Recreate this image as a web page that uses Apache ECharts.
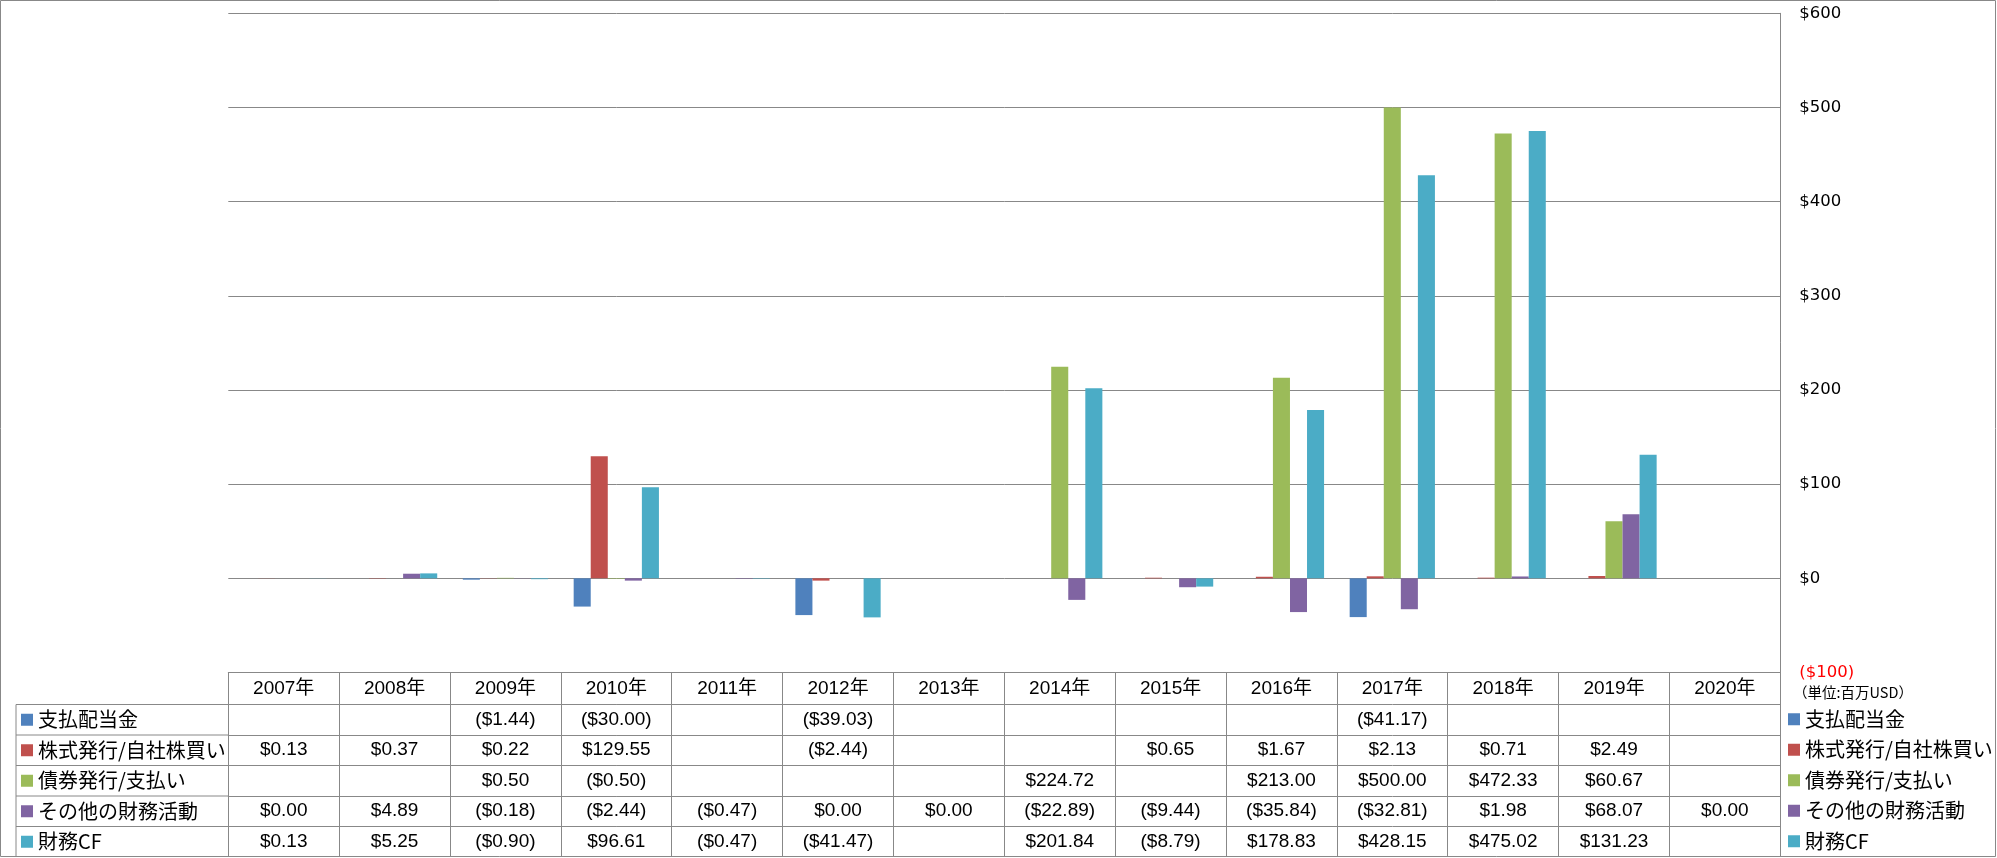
<!DOCTYPE html>
<html>
<head>
<meta charset="utf-8">
<script src="https://cdn.jsdelivr.net/npm/echarts@6/dist/echarts.min.js"></script>
<style>
html,body{margin:0;padding:0;background:#fff;}
#chart{width:1997px;height:858px;}
</style>
</head>
<body>
<div id="chart"></div>
<script>
// ---- data ----
const years = ['2007年','2008年','2009年','2010年','2011年','2012年','2013年','2014年','2015年','2016年','2017年','2018年','2019年','2020年'];
const seriesNames = ['支払配当金','株式発行/自社株買い','債券発行/支払い','その他の財務活動','財務CF'];
const dividends   = [null, null, -1.44, -30.00, null, -39.03, null, null, null, null, -41.17, null, null, null];
const stockIssue  = [0.13, 0.37, 0.22, 129.55, null, -2.44, null, null, 0.65, 1.67, 2.13, 0.71, 2.49, null];
const debtIssue   = [null, null, 0.50, -0.50, null, null, null, 224.72, null, 213.00, 500.00, 472.33, 60.67, null];
const otherFin    = [0.00, 4.89, -0.18, -2.44, -0.47, 0.00, 0.00, -22.89, -9.44, -35.84, -32.81, 1.98, 68.07, 0.00];
const financingCF = [0.13, 5.25, -0.90, 96.61, -0.47, -41.47, null, 201.84, -8.79, 178.83, 428.15, 475.02, 131.23, null];
const yTicks = {min: -100, max: 600, interval: 100};
const unitLabel = '（単位:百万USD）';

const seriesData = [dividends, stockIssue, debtIssue, otherFin, financingCF];
const colors = ['#4F81BD','#C0504D','#9BBB59','#8064A2','#4BACC6'];

// ---- layout ----
const W = 1997, H = 858;
const gridLeft = 228.3, gridRight = 1780.3, gridTop = 13.3, tableTop = 672.5;
const headerH = 32, rowH = 30.5, tableBottom = 857;
const legendColLeft = 16;
const gridCol = '#888888';
const numFont = "'Liberation Sans','Noto Sans CJK JP',sans-serif";
const jpFont = "'Noto Sans CJK JP',sans-serif";

function fmt(v){
  if (v === null || v === undefined) return '';
  return v < 0 ? '($' + Math.abs(v).toFixed(2) + ')' : '$' + v.toFixed(2);
}
function fmtAxis(v){
  v = Number(v);
  return v < 0 ? '($' + Math.abs(v) + ')' : '$' + v;
}

const xAxes = [{
  type: 'category', data: years, gridIndex: 0, position: 'bottom',
  axisLine: {show: true, onZero: false, lineStyle: {color: gridCol, width: 1}},
  axisTick: {show: true, interval: 0, alignWithLabel: false, length: tableBottom - tableTop, lineStyle: {color: gridCol, width: 1}},
  axisLabel: {interval: 0, margin: 6, fontSize: 19, lineHeight: 20, fontFamily: numFont, color: '#000'},
  splitLine: {show: false}
}];
seriesData.forEach((arr, i) => {
  xAxes.push({
    type: 'category', data: years, gridIndex: 0, position: 'bottom',
    offset: headerH + rowH * i,
    axisLine: {show: true, onZero: false, lineStyle: {color: gridCol, width: 1}},
    axisTick: {show: false},
    axisLabel: {interval: 0, margin: (rowH / 2) - 10, fontSize: 19, lineHeight: 20, fontFamily: numFont, color: '#000',
      formatter: (val, idx) => fmt(arr[idx])},
    splitLine: {show: false}
  });
});

const graphics = [
  {type: 'rect', shape: {x: 0.5, y: 0.5, width: W - 2, height: H - 2}, style: {fill: 'none', stroke: gridCol, lineWidth: 1}, silent: true},
  {type: 'line', shape: {x1: legendColLeft, y1: tableTop + headerH, x2: legendColLeft, y2: tableBottom}, style: {stroke: gridCol, lineWidth: 1}, silent: true},
  {type: 'text', left: 1793, top: 685, style: {text: unitLabel, fontSize: 14.5, fontFamily: jpFont, fill: '#000'}, silent: true}
];
for (let k = 0; k < 5; k++) {
  const y = tableTop + headerH + rowH * k;
  graphics.push({type: 'line', shape: {x1: legendColLeft, y1: y, x2: gridLeft, y2: y}, style: {stroke: gridCol, lineWidth: 1}, silent: true});
}

const legendCommon = {
  orient: 'vertical', icon: 'rect', itemWidth: 12, itemHeight: 12, itemGap: rowH - 20, padding: 0,
  textStyle: {fontSize: 20, lineHeight: 20, fontFamily: jpFont, color: '#000'},
  data: seriesNames, selectedMode: false
};

const option = {
  animation: false,
  backgroundColor: '#fff',
  color: colors,
  grid: {left: gridLeft, right: W - gridRight, top: gridTop, bottom: H - tableTop, containLabel: false},
  legend: [
    Object.assign({}, legendCommon, {left: legendColLeft + 5, top: tableTop + headerH + rowH / 2 - 10}),
    Object.assign({}, legendCommon, {left: 1788, top: tableTop + headerH + rowH / 2 - 10.5})
  ],
  xAxis: xAxes,
  yAxis: {
    type: 'value', position: 'right', min: yTicks.min, max: yTicks.max, interval: yTicks.interval,
    axisLine: {show: true, lineStyle: {color: gridCol, width: 1}},
    axisTick: {show: false},
    splitLine: {show: true, lineStyle: {color: gridCol, width: 1}},
    axisLabel: {margin: 19, fontSize: 16.5, fontFamily: "'DejaVu Sans',sans-serif",
      formatter: fmtAxis,
      color: (val) => Number(val) < 0 ? '#FF0000' : '#000000'}
  },
  series: seriesData.map((arr, i) => ({
    name: seriesNames[i], type: 'bar', xAxisIndex: 0, yAxisIndex: 0,
    data: arr, barGap: '0%', barCategoryGap: '23.08%',
    itemStyle: {color: colors[i]}
  })),
  graphic: graphics
};

const chart = echarts.init(document.getElementById('chart'), null, {renderer: 'canvas'});
chart.setOption(option);
</script>
</body>
</html>
